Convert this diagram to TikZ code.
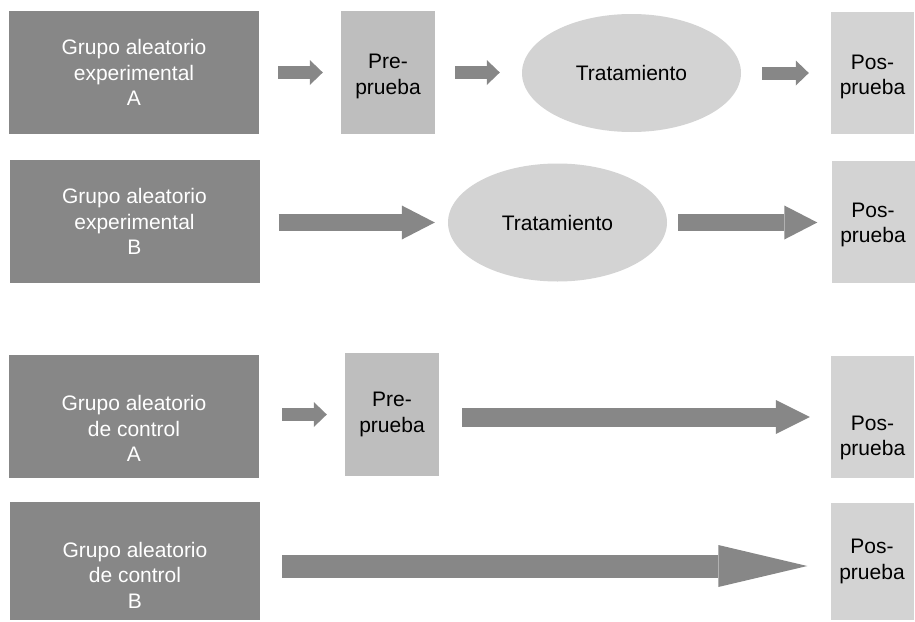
\documentclass[tikz,border=0pt]{standalone}
\usepackage{fontspec}
\setmainfont{Liberation Sans}
\usetikzlibrary{arrows.meta,shapes.geometric}
\definecolor{groupgray}{HTML}{878787}
\definecolor{pregray}{HTML}{BEBEBE}
\definecolor{postgray}{HTML}{D3D3D3}
\begin{document}
\begin{tikzpicture}[x=1pt,y=-1pt,
  every node/.style={font=\fontsize{21}{25.5}\selectfont, align=center, inner sep=0pt},
  group/.style={rectangle, fill=groupgray, text=white, minimum width=250pt, minimum height=123pt},
  grouptext/.style={text=white},
  pretest/.style={rectangle, fill=pregray, minimum width=94pt, minimum height=123pt},
  posttest/.style={rectangle, fill=postgray, minimum width=83pt, minimum height=122pt},
  preword/.style={label={[yshift=-#1]center:{Pre-\\prueba}}},
  postword/.style={label={[yshift=-#1]center:{Pos-\\prueba}}},
  treat/.style={ellipse, fill=postgray, minimum width=219pt, minimum height=118pt},
  flow/.style={draw=groupgray, line cap=butt},
  flowsmall/.style={flow, line width=13pt, -{Triangle[length=13pt,width=25pt,line width=0pt]}},
  flowmid/.style={flow, line width=17pt, -{Triangle[length=33pt,width=34pt,line width=0pt]}},
  flowlong/.style={flow, line width=19pt, -{Triangle[length=34pt,width=34pt,line width=0pt]}},
  flowwide/.style={flow, line width=23pt, -{Triangle[length=89pt,width=42pt,line width=0pt]}},
]
\useasboundingbox (0,0) rectangle (915,621);

% experimental group A: pretest, treatment, posttest
\node[group] (gA) at (134,72.5) {Grupo aleatorio\\experimental\\A};
\node[pretest, preword=4pt] (preA) at (388,72.5) {};
\node[treat] (tA) at (631.5,73) {Tratamiento};
\node[posttest, postword=4pt] (posA) at (872.5,73) {};

% experimental group B: treatment, posttest
\node[group] (gB) at (134.5,221.5) {Grupo aleatorio\\experimental\\B};
\node[treat] (tB) at (557.5,222.5) {Tratamiento};
\node[posttest, postword=3pt] (posB) at (873,222) {};

% control group A: pretest, posttest
\node[group, label={[grouptext, yshift=-12pt]center:{Grupo aleatorio\\de control\\A}}] (gC) at (134,416.5) {};
\node[pretest, preword=0pt] (preC) at (392,414.5) {};
\node[posttest, postword=21pt] (posC) at (872.5,417) {};

% control group B: posttest only
\node[group, minimum height=118pt, label={[grouptext, yshift=-14pt]center:{Grupo aleatorio\\de control\\B}}] (gD) at (135,561) {};
\node[posttest, minimum height=117pt, postword=0pt] (posD) at (872,561.5) {};

% flow arrows
\draw[flowsmall, shorten <=19pt, shorten >=18pt] (gA.east) -- (gA.east -| preA.west);
\draw[flowsmall, shorten <=20pt, shorten >=22pt] (preA.east) -- (preA.east -| tA.west);
\draw[flowsmall, shorten <=21pt, shorten >=22pt] (tA.east) -- (tA.east -| posA.west);

\draw[flowmid, shorten <=19pt, shorten >=13pt] (gB.east |- tB.west) -- (tB.west);
\draw[flowmid, shorten <=11pt, shorten >=14pt] (tB.east) -- (tB.east -| posB.west);

\draw[flowsmall, shorten <=23pt, shorten >=18pt] (gC.east |- preC.west) -- (preC.west);
\draw[flowlong, shorten <=23pt, shorten >=21pt] (preC.east |- posC.west) -- (posC.west);

\draw[flowwide, shorten <=22pt, shorten >=23pt] ([yshift=-5pt]gD.east) -- ([yshift=-5pt]gD.east -| posD.west);
\end{tikzpicture}
\end{document}
